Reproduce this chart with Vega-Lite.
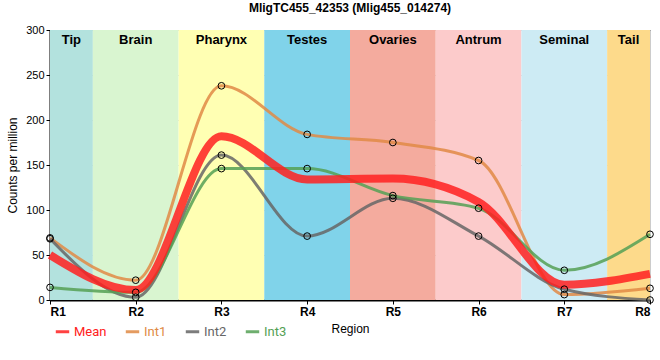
{
  "$schema": "https://vega.github.io/schema/vega-lite/v6.json",
  "width": 600,
  "height": 270,
  "autosize": {"type": "none"},
  "padding": {"left": 50, "top": 30, "right": 10, "bottom": 60},
  "config": {
    "font": "Liberation Sans",
    "view": {"stroke": "black", "strokeWidth": 1},
    "axis": {"gridColor": "#cccccc", "gridWidth": 1, "domainColor": "black", "tickColor": "black", "labelColor": "black", "titleColor": "black", "labelFont": "Liberation Sans", "titleFont": "Liberation Sans"}
  },
  "title": {"text": "MligTC455_42353 (Mlig455_014274)", "fontSize": 12, "fontWeight": "bold", "font": "Liberation Sans", "offset": 9, "color": "black"},
  "datasets": {
    "bands": [
      {"region": "Tip", "from": 1, "to": 1.5, "mid": 1.25},
      {"region": "Brain", "from": 1.5, "to": 2.5, "mid": 2},
      {"region": "Pharynx", "from": 2.5, "to": 3.5, "mid": 3},
      {"region": "Testes", "from": 3.5, "to": 4.5, "mid": 4},
      {"region": "Ovaries", "from": 4.5, "to": 5.5, "mid": 5},
      {"region": "Antrum", "from": 5.5, "to": 6.5, "mid": 6},
      {"region": "Seminal", "from": 6.5, "to": 7.5, "mid": 7},
      {"region": "Tail", "from": 7.5, "to": 8, "mid": 7.75}
    ],
    "series": [
      {"series": "Int1", "r": 1, "v": 69}, {"series": "Int1", "r": 2, "v": 22}, {"series": "Int1", "r": 3, "v": 238}, {"series": "Int1", "r": 4, "v": 184},
      {"series": "Int1", "r": 5, "v": 175}, {"series": "Int1", "r": 6, "v": 155}, {"series": "Int1", "r": 7, "v": 6}, {"series": "Int1", "r": 8, "v": 13},
      {"series": "Int2", "r": 1, "v": 68}, {"series": "Int2", "r": 2, "v": 3}, {"series": "Int2", "r": 3, "v": 161}, {"series": "Int2", "r": 4, "v": 71},
      {"series": "Int2", "r": 5, "v": 113}, {"series": "Int2", "r": 6, "v": 71}, {"series": "Int2", "r": 7, "v": 12}, {"series": "Int2", "r": 8, "v": 0},
      {"series": "Int3", "r": 1, "v": 14}, {"series": "Int3", "r": 2, "v": 8.5}, {"series": "Int3", "r": 3, "v": 146}, {"series": "Int3", "r": 4, "v": 146},
      {"series": "Int3", "r": 5, "v": 116}, {"series": "Int3", "r": 6, "v": 102}, {"series": "Int3", "r": 7, "v": 33}, {"series": "Int3", "r": 8, "v": 73},
      {"series": "Mean", "r": 1, "v": 50}, {"series": "Mean", "r": 2, "v": 11}, {"series": "Mean", "r": 3, "v": 182}, {"series": "Mean", "r": 4, "v": 134},
      {"series": "Mean", "r": 5, "v": 135}, {"series": "Mean", "r": 6, "v": 109}, {"series": "Mean", "r": 7, "v": 17}, {"series": "Mean", "r": 8, "v": 29}
    ]
  },
  "layer": [
    {
      "data": {"name": "bands"},
      "mark": {"type": "rect", "strokeWidth": 0},
      "encoding": {
        "x": {"field": "from", "type": "quantitative", "scale": {"domain": [1, 8], "nice": false, "zero": false}, "axis": {"values": [1,2,3,4,5,6,7,8], "labelExpr": "'R' + datum.value", "labelFontWeight": "bold", "labelFontSize": 12, "title": "Region", "titleFontWeight": "normal", "titleFontSize": 12, "titlePadding": 6, "domainWidth": 2, "tickSize": 4, "labelPadding": 2, "grid": true}},
        "x2": {"field": "to"},
        "y": {"datum": 0, "type": "quantitative", "scale": {"domain": [0, 300], "nice": false}, "axis": {"values": [0,50,100,150,200,250,300], "title": "Counts per million", "titleFontWeight": "normal", "titleFontSize": 12, "labelFontSize": 11, "domainWidth": 2, "tickSize": 4, "grid": true, "titlePadding": 6}},
        "y2": {"datum": 300},
        "fill": {"field": "region", "type": "nominal", "legend": null, "scale": {"domain": ["Tip","Brain","Pharynx","Testes","Ovaries","Antrum","Seminal","Tail"], "range": ["#b3e2de","#d9f5d0","#ffffb3","#80d3ea","#f4ab9e","#fccbcb","#cdebf4","#fdda8b"]}}
      }
    },
    {
      "data": {"name": "bands"},
      "mark": {"type": "text", "fontWeight": "bold", "fontSize": 13, "color": "black", "baseline": "top", "dy": 4, "align": "center"},
      "encoding": {
        "x": {"field": "mid", "type": "quantitative"},
        "y": {"datum": 300, "type": "quantitative"},
        "text": {"field": "region"}
      }
    },
    {
      "data": {"name": "series"},
      "mark": {"type": "line", "interpolate": "monotone", "opacity": 0.85},
      "encoding": {
        "x": {"field": "r", "type": "quantitative"},
        "y": {"field": "v", "type": "quantitative"},
        "color": {"field": "series", "type": "nominal", "scale": {"domain": ["Mean","Int1","Int2","Int3"], "range": ["#ff2020","#e08a45","#666666","#55a055"]},
          "legend": {"orient": "none", "legendX": 4, "legendY": 293, "direction": "horizontal", "title": null, "symbolType": "stroke", "symbolStrokeWidth": 3, "symbolSize": 180, "labelFontSize": 13, "labelFont": "Roboto", "columnPadding": 12, "labelOffset": 3,
            "labelColor": {"expr": "scale('color', datum.value)"},
            "encode": {
              "symbols": {"update": {"strokeWidth": {"signal": "datum.value === 'Mean' ? 7 : 3"}, "shape": {"value": "stroke"}}}
            }}},
        "strokeWidth": {"condition": {"test": "datum.series === 'Mean'", "value": 8}, "value": 3}
      }
    },
    {
      "data": {"name": "series"},
      "transform": [{"filter": "datum.series !== 'Mean'"}],
      "mark": {"type": "point", "shape": "circle", "filled": false, "stroke": "black", "strokeWidth": 1, "size": 45, "opacity": 1},
      "encoding": {
        "x": {"field": "r", "type": "quantitative"},
        "y": {"field": "v", "type": "quantitative"}
      }
    }
  ]
}
